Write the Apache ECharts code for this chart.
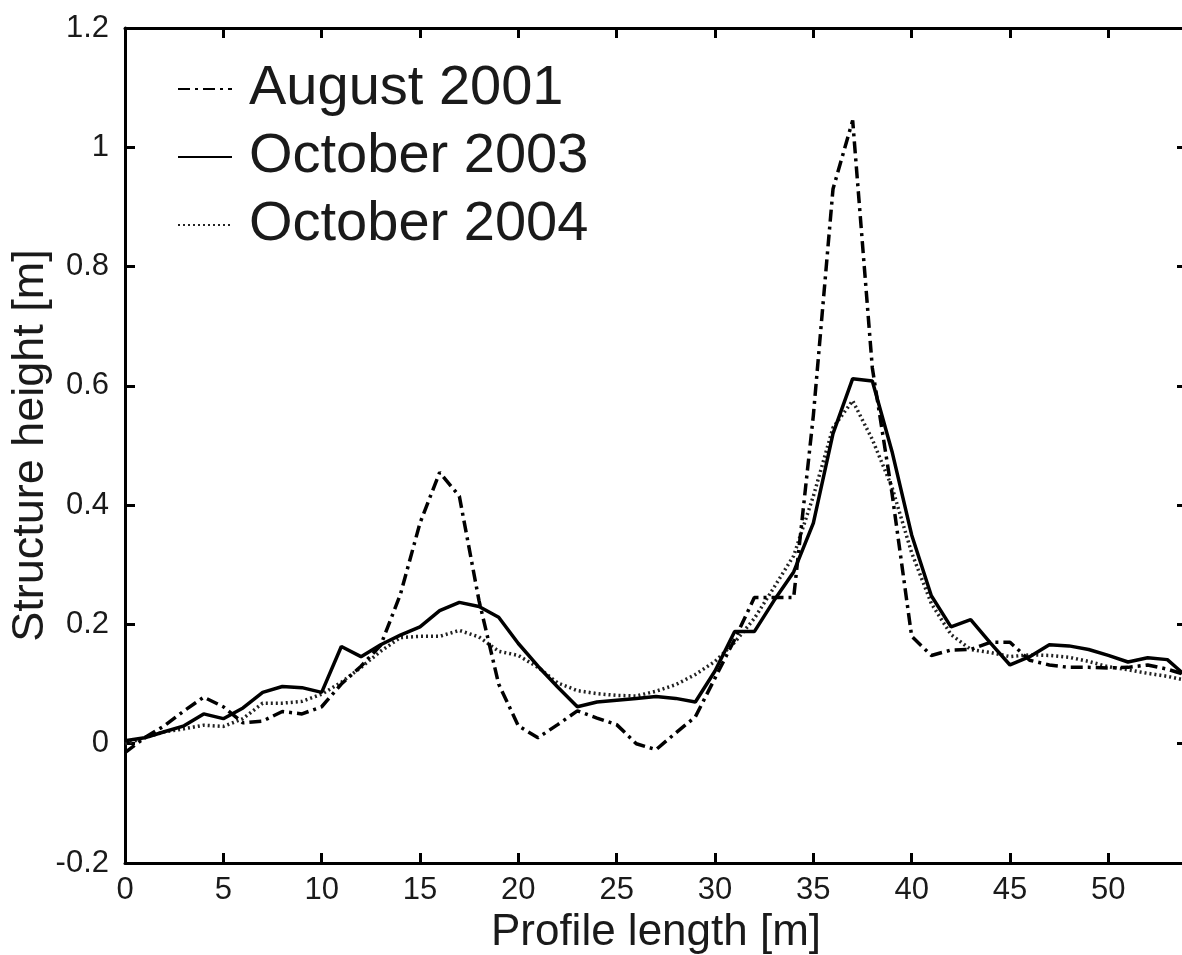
<!DOCTYPE html>
<html>
<head>
<meta charset="utf-8">
<script src="https://cdn.jsdelivr.net/npm/echarts@6/dist/echarts.min.js"></script>
<style>html,body{margin:0;padding:0;background:#fff}#c{width:1182px;height:955px}</style>
</head>
<body>
<div id="c"></div>
<script>
const profileX = [0,1,2,3,4,5,6,7,8,9,10,11,12,13,14,15,16,17,18,19,20,21,22,23,24,25,26,27,28,29,30,31,32,33,34,35,36,37,38,39,40,41,42,43,44,45,46,47,48,49,50,51,52,53,54];
const aug2001 = [-0.015,0.01,0.03,0.055,0.078,0.062,0.035,0.038,0.054,0.05,0.062,0.1,0.13,0.165,0.25,0.37,0.455,0.415,0.24,0.1,0.03,0.01,0.032,0.055,0.043,0.032,0.0,-0.01,0.018,0.045,0.11,0.175,0.245,0.245,0.245,0.55,0.93,1.045,0.63,0.42,0.18,0.148,0.157,0.158,0.17,0.17,0.14,0.132,0.128,0.128,0.127,0.128,0.132,0.125,0.115];
const oct2003 = [0.005,0.01,0.02,0.03,0.05,0.042,0.06,0.086,0.096,0.094,0.086,0.163,0.146,0.166,0.182,0.196,0.223,0.237,0.23,0.212,0.168,0.13,0.095,0.062,0.07,0.073,0.076,0.079,0.076,0.07,0.122,0.188,0.188,0.24,0.288,0.37,0.52,0.612,0.608,0.49,0.35,0.248,0.196,0.208,0.169,0.132,0.146,0.166,0.164,0.158,0.148,0.137,0.144,0.141,0.112];
const oct2004 = [0.0,0.01,0.02,0.025,0.031,0.029,0.042,0.068,0.068,0.071,0.083,0.103,0.128,0.155,0.178,0.18,0.18,0.19,0.179,0.155,0.148,0.128,0.102,0.089,0.084,0.081,0.08,0.088,0.099,0.116,0.138,0.17,0.21,0.262,0.315,0.415,0.53,0.575,0.51,0.43,0.32,0.235,0.183,0.158,0.153,0.146,0.149,0.148,0.145,0.138,0.129,0.124,0.118,0.113,0.106];
const seriesNames = ['August 2001','October 2003','October 2004'];
const xTicks = [0,5,10,15,20,25,30,35,40,45,50];
const yTicks = [-0.2,0,0.2,0.4,0.6,0.8,1,1.2];

const font = 'Liberation Sans, Arial, Helvetica, sans-serif';
const pair = (ys) => profileX.map((x,i)=>[x,ys[i]]);
const chart = echarts.init(document.getElementById('c'), null, {renderer:'canvas'});
const axisLine = {show:true, onZero:false, lineStyle:{color:'#000', width:3}};
const axisTick = {show:true, inside:true, length:10, lineStyle:{color:'#000', width:3}};
chart.setOption({
  animation:false,
  backgroundColor:'#fff',
  color:['#000','#000','#222'],
  grid:{left:125, top:28, right:-5, bottom:92, containLabel:false, outerBoundsMode:'none'},
  legend:{
    show:true, orient:'vertical', left:172, top:56, itemGap:12,
    itemWidth:54, itemHeight:54,
    itemStyle:{opacity:0},
    textStyle:{fontFamily:font, fontSize:56, color:'#1a1a1a', padding:[0,0,0,12]},
    data:seriesNames
  },
  xAxis:[{
    type:'value', min:0, max:54, interval:5, position:'bottom',
    name:'Profile length [m]', nameLocation:'middle', nameGap:40,
    nameTextStyle:{fontFamily:font, fontSize:44, color:'#1a1a1a'},
    axisLine, axisTick, splitLine:{show:false},
    axisLabel:{fontFamily:font, fontSize:31, color:'#1a1a1a', margin:12,
      formatter:(v)=> xTicks.includes(v)? String(v) : ''}
  },{
    type:'value', min:0, max:54, interval:5, position:'top',
    axisLine, axisTick, splitLine:{show:false}, axisLabel:{show:false}
  }],
  yAxis:[{
    type:'value', min:-0.2, max:1.2, interval:0.2, position:'left',
    name:'Structure height [m]', nameLocation:'middle', nameGap:72, nameMoveOverlap:false,
    nameTextStyle:{fontFamily:font, fontSize:45, color:'#1a1a1a'},
    axisLine, axisTick, splitLine:{show:false},
    axisLabel:{fontFamily:font, fontSize:31, color:'#1a1a1a', margin:16,
      formatter:(v)=>{ const r=Math.round(v*10)/10; return yTicks.some(t=>Math.abs(t-r)<1e-9)? String(r):''; }}
  },{
    type:'value', min:-0.2, max:1.2, interval:0.2, position:'right',
    axisLine, axisTick, splitLine:{show:false}, axisLabel:{show:false}
  }],
  series:[
    {name:seriesNames[0], type:'line', data:pair(aug2001), symbol:'none', z:3,
     itemStyle:{color:'#000'},
     lineStyle:{color:'#000', width:3.5, type:[12,5,3,5]}},
    {name:seriesNames[1], type:'line', data:pair(oct2003), symbol:'none', z:4,
     itemStyle:{color:'#000'},
     lineStyle:{color:'#000', width:3.5, type:'solid'}},
    {name:seriesNames[2], type:'line', data:pair(oct2004), symbol:'none', z:2,
     itemStyle:{color:'#222'},
     lineStyle:{color:'#222', width:3.5, type:[2,3]}}
  ]
});
</script>
</body>
</html>
